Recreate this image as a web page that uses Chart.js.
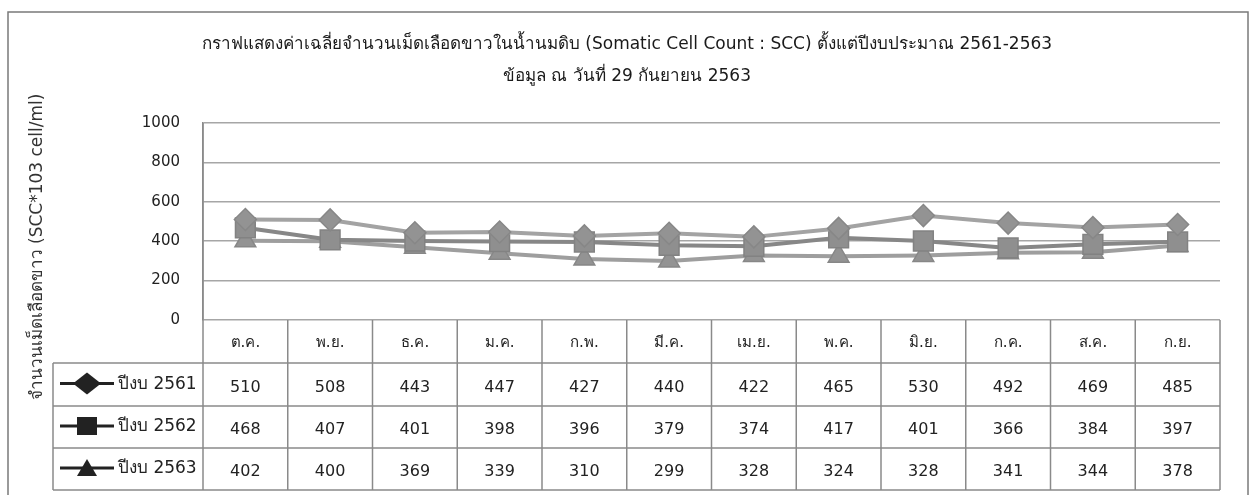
<!DOCTYPE html>
<html><head><meta charset="utf-8">
<script src="https://cdn.jsdelivr.net/npm/chart.js@4.4.1/dist/chart.umd.min.js"></script>
<style>html,body{margin:0;padding:0;background:#fff}canvas{display:block}</style>
</head><body>
<canvas id="c" width="1256" height="495"></canvas>
<script>
const titleLines = ["กราฟแสดงค่าเฉลี่ยจำนวนเม็ดเลือดขาวในน้ำนมดิบ (Somatic Cell Count : SCC) ตั้งแต่ปีงบประมาณ 2561-2563", "ข้อมูล ณ วันที่ 29 กันยายน 2563"];
const yAxisTitle = "จำนวนเม็ดเลือดขาว (SCC*103 cell/ml)";
const months = ["ต.ค.","พ.ย.","ธ.ค.","ม.ค.","ก.พ.","มี.ค.","เม.ย.","พ.ค.","มิ.ย.","ก.ค.","ส.ค.","ก.ย."];
const seriesNames = ["ปีงบ 2561","ปีงบ 2562","ปีงบ 2563"];
const fy2561 = [510,508,443,447,427,440,422,465,530,492,469,485];
const fy2562 = [468,407,401,398,396,379,374,417,401,366,384,397];
const fy2563 = [402,400,369,339,310,299,328,324,328,341,344,378];
const yMin = 0, yMax = 1000, yStep = 200;

const FONT = '"DejaVu Sans", "Noto Sans", sans-serif';
const markerShapes = ['diamond','square','triangle'];

function legendMarker(ctx, shape, cx, cy){
  ctx.beginPath();
  if (shape==='diamond'){ ctx.moveTo(cx-14,cy); ctx.lineTo(cx,cy-11); ctx.lineTo(cx+14,cy); ctx.lineTo(cx,cy+11); }
  else if (shape==='square'){ ctx.rect(cx-10,cy-9,20,18); }
  else { ctx.moveTo(cx-10,cy+8); ctx.lineTo(cx,cy-9); ctx.lineTo(cx+10,cy+8); }
  ctx.closePath(); ctx.fill();
}

const decor = {
  id:'decor',
  beforeDraw(chart){
    const ctx = chart.ctx;
    ctx.save();
    ctx.fillStyle='#fff'; ctx.fillRect(0,0,chart.width,chart.height);
    ctx.strokeStyle='#7a7a7a'; ctx.lineWidth=1.5;
    ctx.strokeRect(8,12,1240,520);
    ctx.restore();
  },
  afterDraw(chart){
    const ctx = chart.ctx, ca = chart.chartArea, xs = chart.scales.x;
    ctx.save();
    ctx.fillStyle='#1a1a1a'; ctx.textAlign='center'; ctx.textBaseline='middle';
    ctx.font = '17px ' + FONT;
    ctx.fillText(titleLines[0], 627, 45);
    ctx.fillText(titleLines[1], 627, 77);
    ctx.save();
    ctx.translate(38, 247); ctx.rotate(-Math.PI/2);
    ctx.font = '17px ' + FONT; ctx.fillStyle='#333';
    ctx.fillText(yAxisTitle, 0, 0);
    ctx.restore();
    const colW = xs.getPixelForValue(1) - xs.getPixelForValue(0);
    const left = ca.left, right = ca.right, legLeft = 53;
    const rows = [ca.bottom, ca.bottom+43, ca.bottom+86, ca.bottom+128, ca.bottom+170];
    ctx.strokeStyle='#8a8a8a'; ctx.lineWidth=1.5;
    ctx.beginPath();
    for (let r=1;r<rows.length;r++){ ctx.moveTo(legLeft, rows[r]); ctx.lineTo(right, rows[r]); }
    ctx.moveTo(legLeft, rows[1]); ctx.lineTo(legLeft, rows[4]);
    ctx.moveTo(left, ca.top); ctx.lineTo(left, rows[4]);
    for (let i=1;i<=months.length;i++){ const xx = left + i*colW; ctx.moveTo(xx, rows[0]); ctx.lineTo(xx, rows[4]); }
    ctx.stroke();
    ctx.fillStyle='#222'; ctx.textAlign='center'; ctx.textBaseline='middle';
    ctx.font = '15px ' + FONT;
    months.forEach((m,i)=>ctx.fillText(m, xs.getPixelForValue(i), (rows[0]+rows[1])/2+2));
    chart.data.datasets.forEach((ds,r)=>{
      const cy = (rows[r+1]+rows[r+2])/2 + 3;
      ctx.textAlign='center'; ctx.font='16px ' + FONT; ctx.fillStyle='#222';
      ds.data.forEach((v,i)=>ctx.fillText(String(v), xs.getPixelForValue(i), cy));
      const my = (rows[r+1]+rows[r+2])/2 - 1;
      ctx.strokeStyle='#222'; ctx.lineWidth=3;
      ctx.beginPath(); ctx.moveTo(60,my); ctx.lineTo(114,my); ctx.stroke();
      ctx.fillStyle='#222';
      legendMarker(ctx, markerShapes[r], 87, my);
      ctx.textAlign='left'; ctx.font='17px ' + FONT;
      ctx.fillText(ds.label, 118, my+1);
    });
    ctx.restore();
  }
};

new Chart(document.getElementById('c'), {
  type:'line',
  data:{
    labels: months,
    datasets:[
      {label:seriesNames[0], data:fy2561, borderColor:'#a3a3a3', backgroundColor:'#939393', pointBorderColor:'#878787', borderWidth:4, pointStyle:'rectRot', pointRadius:11, pointBorderWidth:1.5, tension:0},
      {label:seriesNames[1], data:fy2562, borderColor:'#878787', backgroundColor:'#8f8f8f', pointBorderColor:'#828282', borderWidth:4, pointStyle:'rect', pointRadius:14, pointBorderWidth:1.5, tension:0},
      {label:seriesNames[2], data:fy2563, borderColor:'#9e9e9e', backgroundColor:'#939393', pointBorderColor:'#878787', borderWidth:4, pointStyle:'triangle', pointRadius:12, pointBorderWidth:1.5, tension:0}
    ]
  },
  options:{
    responsive:false, animation:false,
    layout:{padding:{left:0, top:123, right:36, bottom:175}},
    plugins:{legend:{display:false}, title:{display:false}, tooltip:{enabled:false}},
    scales:{
      x:{display:false, offset:true},
      y:{min:yMin, max:yMax,
         ticks:{stepSize:yStep, padding:23, color:'#222', font:{family:FONT, size:15}, callback:(v)=>String(v)},
         grid:{color:'#a6a6a6', lineWidth:1.5, drawTicks:false, tickLength:0, tickColor:'rgba(0,0,0,0)'},
         border:{display:true, color:'#8a8a8a', width:1.5},
         afterFit(s){ s.width = 203; }
      }
    }
  },
  plugins:[decor]
});
</script>
</body></html>
